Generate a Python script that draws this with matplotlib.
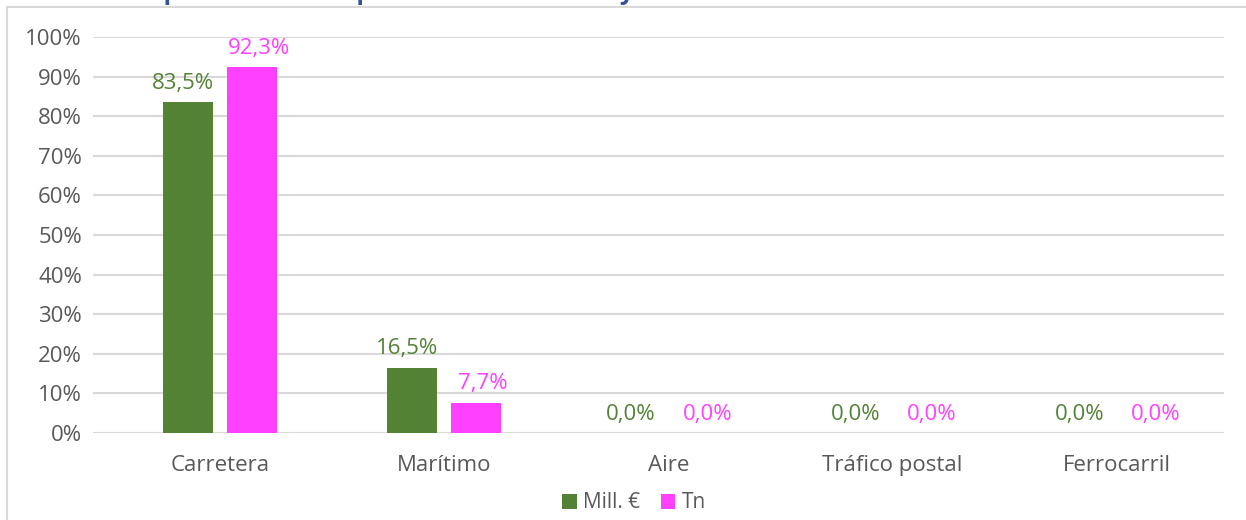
import numpy as np
import matplotlib.pyplot as plt
from matplotlib.lines import Line2D

plt.rcParams['font.family'] = ['Open Sans', 'DejaVu Sans']

categories = ['Carretera', 'Marítimo', 'Aire', 'Tráfico postal', 'Ferrocarril']
mill_eur = [83.5, 16.5, 0.0, 0.0, 0.0]
tn = [92.3, 7.7, 0.0, 0.0, 0.0]
y_ticks = [0, 10, 20, 30, 40, 50, 60, 70, 80, 90, 100]

green = '#548235'
pink = '#FF40FF'
grey = '#595959'

fig = plt.figure(figsize=(12.46, 5.2), dpi=100)
ax = fig.add_axes([93 / 1246, 1 - 433 / 520, (1224 - 93) / 1246, (433 - 37) / 520])

x = np.arange(len(categories))
w = 0.223
off = 0.142
b1 = ax.bar(x - off, mill_eur, w, color=green, label='Mill. €', zorder=3)
b2 = ax.bar(x + off, tn, w, color=pink, label='Tn', zorder=3)

# labels sit a little off-centre like in the original chart
for bars, vals, col, dx in [(b1, mill_eur, green, -4), (b2, tn, pink, 5)]:
    for rect, v in zip(bars, vals):
        ax.annotate(f'{v:.1f}%'.replace('.', ','),
                    (rect.get_x() + rect.get_width() / 2, v),
                    xytext=(dx, 6), textcoords='offset points',
                    ha='center', va='bottom', color=col, fontsize=16)

ax.set_xlim(-0.567, 4.478)
ax.set_ylim(0, 100)
ax.set_yticks(y_ticks)
ax.set_yticklabels([f'{t}%' for t in y_ticks])
ax.set_xticks(x)
ax.set_xticklabels(categories)
ax.tick_params(axis='both', length=0, colors=grey, labelsize=16)
ax.tick_params(axis='y', pad=8)
ax.tick_params(axis='x', pad=16)
ax.grid(axis='y', color='#D9D9D9', linewidth=1.5, zorder=0)
for s in ax.spines.values():
    s.set_visible(False)
ax.axhline(0, color='#D9D9D9', linewidth=1.5, zorder=2)

fig.legend(handles=[b1, b2], loc='center', bbox_to_anchor=(634 / 1246, 1 - 503 / 520),
           ncol=2, frameon=False, fontsize=15, handlelength=0.7, handleheight=0.7,
           handletextpad=0.3, columnspacing=1.0, labelcolor=grey)

# chart frame (only left and top edges visible in the crop)
fig.add_artist(Line2D([7 / 1246, 7 / 1246], [0, 1 - 7 / 520], color='#D9D9D9', linewidth=1.5))
fig.add_artist(Line2D([7 / 1246, 1], [1 - 7 / 520, 1 - 7 / 520], color='#D9D9D9', linewidth=1.5))

# title, cut off by the top edge as in the source image
fig.text(8 / 1246, 1 + 1 / 520, 'Gráfico 3. Reparto modal importaciones en valor y volumen con destino al exterior. 2019',
         color='#2F5597', fontsize=18, fontweight='bold', va='baseline', ha='left')

fig.savefig('out.png', dpi=100)
